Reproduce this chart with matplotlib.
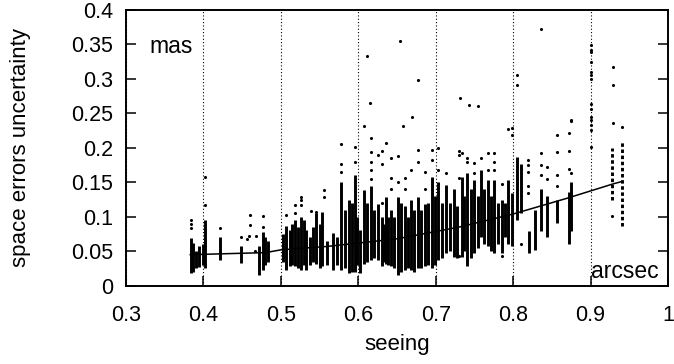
import matplotlib
matplotlib.use("Agg")
import matplotlib.pyplot as plt

plt.rcParams["font.family"] = ["Liberation Sans", "DejaVu Sans"]

# dense vertical streaks of points: seeing value, lowest and highest error
strip_x = [0.3835, 0.387, 0.391, 0.3946, 0.399, 0.4023, 0.4217, 0.4484, 0.472, 0.4764,
           0.480, 0.484,
           0.503, 0.5065, 0.5116, 0.514, 0.518, 0.522, 0.526, 0.530, 0.533, 0.537,
           0.542, 0.546, 0.550, 0.5535, 0.560, 0.567, 0.572, 0.578, 0.583, 0.588,
           0.592, 0.5955, 0.598, 0.602, 0.607, 0.611, 0.616, 0.620, 0.625, 0.63,
           0.633, 0.6355, 0.639, 0.6426, 0.646, 0.651, 0.655, 0.66, 0.664, 0.6677,
           0.672, 0.677, 0.681, 0.686, 0.690, 0.695, 0.699, 0.7026, 0.708, 0.713,
           0.718, 0.723, 0.727, 0.7335, 0.737, 0.741, 0.745, 0.75, 0.754, 0.758,
           0.762, 0.767, 0.771, 0.775, 0.780, 0.786, 0.790, 0.793, 0.798, 0.8045,
           0.81, 0.8204, 0.8287, 0.8363, 0.844, 0.856, 0.872, 0.875, 0.928, 0.941]
strip_lo = [0.018, 0.020, 0.025, 0.027, 0.030, 0.026, 0.037, 0.033, 0.016, 0.023,
            0.030, 0.034,
            0.035, 0.023, 0.028, 0.030, 0.028, 0.025, 0.023, 0.030, 0.023, 0.030,
            0.035, 0.032, 0.025, 0.028, 0.030, 0.023, 0.030, 0.023, 0.025, 0.018,
            0.020, 0.020, 0.030, 0.018, 0.032, 0.035, 0.037, 0.040, 0.037, 0.028,
            0.035, 0.032, 0.030, 0.028, 0.025, 0.016, 0.020, 0.023, 0.025, 0.023,
            0.020, 0.025, 0.025, 0.028, 0.030, 0.025, 0.030, 0.037, 0.040, 0.047,
            0.050, 0.042, 0.040, 0.042, 0.050, 0.028, 0.040, 0.047, 0.055, 0.071,
            0.060, 0.057, 0.050, 0.047, 0.060, 0.047, 0.070, 0.061, 0.057, 0.095,
            0.105, 0.047, 0.052, 0.080, 0.070, 0.091, 0.061, 0.080, 0.124, 0.086]
strip_hi = [0.069, 0.062, 0.050, 0.057, 0.060, 0.095, 0.070, 0.058, 0.057, 0.078,
            0.070, 0.065,
            0.075, 0.086, 0.081, 0.090, 0.095, 0.085, 0.100, 0.095, 0.081, 0.070,
            0.085, 0.105, 0.090, 0.107, 0.065, 0.076, 0.070, 0.150, 0.110, 0.124,
            0.120, 0.160, 0.100, 0.081, 0.139, 0.120, 0.145, 0.110, 0.119, 0.100,
            0.090, 0.129, 0.100, 0.110, 0.100, 0.129, 0.120, 0.115, 0.100, 0.124,
            0.110, 0.129, 0.110, 0.119, 0.120, 0.158, 0.130, 0.151, 0.120, 0.146,
            0.120, 0.141, 0.115, 0.158, 0.130, 0.163, 0.140, 0.153, 0.130, 0.168,
            0.140, 0.153, 0.130, 0.153, 0.120, 0.124, 0.120, 0.153, 0.134, 0.187,
            0.177, 0.080, 0.110, 0.140, 0.130, 0.124, 0.136, 0.150, 0.200, 0.209]

# isolated points above / around the streaks
dot_x = [0.3835, 0.3835, 0.3835, 0.4023, 0.4023, 0.4217, 0.4484, 0.456, 0.459,
         0.460, 0.460, 0.468, 0.466, 0.4764, 0.4764,
         0.5065, 0.518, 0.518, 0.526, 0.526, 0.526, 0.5387, 0.546, 0.556, 0.556,
         0.578, 0.578, 0.578, 0.5955, 0.5955, 0.616, 0.616, 0.616, 0.616, 0.616,
         0.625, 0.63, 0.63, 0.63, 0.6355, 0.6355, 0.6426, 0.6426, 0.6426, 0.651,
         0.651, 0.66, 0.66, 0.6677, 0.677, 0.677, 0.686, 0.686, 0.695, 0.695,
         0.7026, 0.7026, 0.713, 0.73, 0.73, 0.73, 0.73, 0.7335, 0.741, 0.741,
         0.75, 0.75, 0.758, 0.767, 0.767, 0.775, 0.775, 0.775, 0.786, 0.786,
         0.798, 0.798, 0.8045, 0.81, 0.8187, 0.8187, 0.8187, 0.8187, 0.8187,
         0.8363, 0.8363, 0.8363, 0.844, 0.844, 0.856, 0.856, 0.856, 0.856,
         0.872, 0.872, 0.872, 0.875, 0.875,
         0.654, 0.6114, 0.677, 0.6152, 0.670, 0.608, 0.6583, 0.8359, 0.7314,
         0.743, 0.755, 0.805, 0.805, 0.7933, 0.875,
         0.900, 0.900, 0.900, 0.900, 0.900, 0.900, 0.900, 0.900, 0.900, 0.900,
         0.900, 0.900, 0.900, 0.900, 0.9288, 0.9288, 0.9288, 0.928, 0.940]
dot_y = [0.096, 0.090, 0.083, 0.158, 0.1165, 0.084, 0.070, 0.068, 0.072,
         0.103, 0.088, 0.0725, 0.050, 0.1005, 0.085,
         0.1025, 0.117, 0.105, 0.129, 0.124, 0.117, 0.109, 0.107, 0.1395, 0.128,
         0.2054, 0.177, 0.165, 0.2015, 0.180, 0.2136, 0.194, 0.180, 0.168, 0.155,
         0.190, 0.1957, 0.177, 0.120, 0.207, 0.117, 0.185, 0.156, 0.141, 0.188,
         0.151, 0.156, 0.141, 0.168, 0.197, 0.180, 0.165, 0.141, 0.197, 0.182,
         0.1995, 0.168, 0.163, 0.196, 0.189, 0.156, 0.043, 0.192, 0.185, 0.179,
         0.178, 0.163, 0.185, 0.1928, 0.168, 0.192, 0.180, 0.168, 0.148, 0.0425,
         0.2285, 0.218, 0.158, 0.060, 0.182, 0.175, 0.165, 0.145, 0.135,
         0.192, 0.175, 0.160, 0.172, 0.155, 0.218, 0.194, 0.160, 0.145,
         0.221, 0.195, 0.170, 0.240, 0.163,
         0.3546, 0.3333, 0.298, 0.2648, 0.2445, 0.2314, 0.2314, 0.372, 0.272,
         0.2623, 0.260, 0.3064, 0.2913, 0.228, 0.2387,
         0.349, 0.3416, 0.339, 0.3246, 0.310, 0.3054, 0.3006, 0.2633, 0.257,
         0.245, 0.240, 0.233, 0.2257, 0.2014, 0.317, 0.2909, 0.2354, 0.101, 0.230]

# mean trend line
fit_x = [0.383, 0.48, 0.50, 0.56, 0.65, 0.73, 0.80, 0.87, 0.93, 0.94]
fit_y = [0.045, 0.048, 0.052, 0.057, 0.068, 0.085, 0.104, 0.127, 0.148, 0.151]

fig = plt.figure(figsize=(6.74, 3.64), dpi=100)
ax = fig.add_axes([126 / 674, 1 - 285.7 / 364, 542 / 674, 275.7 / 364])

# the sparser columns at large seeing look like separate dots
styles = ["solid" if x < 0.9 else (0, (1.2, 0.9)) for x in strip_x]
ax.vlines(strip_x, strip_lo, strip_hi, colors="black", linewidth=2.1,
          linestyles=styles)
ax.scatter(dot_x, dot_y, s=5, color="black", linewidths=0)
ax.plot(fit_x, fit_y, color="black", linewidth=1.1)

ax.set_xlim(0.3, 1.0)
ax.set_ylim(0, 0.4)
ax.set_xticks([0.3, 0.4, 0.5, 0.6, 0.7, 0.8, 0.9, 1.0])
ax.set_xticklabels(["0.3", "0.4", "0.5", "0.6", "0.7", "0.8", "0.9", "1"])
ax.set_yticks([0, 0.05, 0.1, 0.15, 0.2, 0.25, 0.3, 0.35, 0.4])
ax.set_yticklabels(["0", "0.05", "0.1", "0.15", "0.2", "0.25", "0.3", "0.35", "0.4"])
ax.tick_params(axis="both", direction="in", length=7, width=1.1, labelsize=15.5)
ax.tick_params(axis="y", right=True, pad=9)
ax.tick_params(axis="x", pad=14)
ax.grid(axis="x", linestyle=(0, (1, 2)), color="black", linewidth=0.8)
for s in ax.spines.values():
    s.set_linewidth(1.4)

ax.set_xlabel("seeing", fontsize=16, labelpad=6)
ax.set_ylabel("space errors uncertainty", fontsize=16, labelpad=29)
ax.text(0.3297, 0.337, "mas", fontsize=16.5, va="baseline")
ax.text(0.901, 0.0107, "arcsec", fontsize=16.5, va="baseline")

fig.savefig("out.png", dpi=100)
